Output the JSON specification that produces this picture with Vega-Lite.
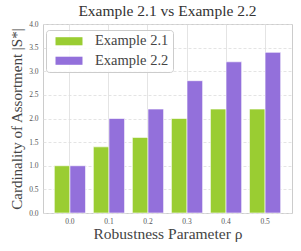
{
  "$schema": "https://vega.github.io/schema/vega-lite/v6.json",
  "autosize": {"type": "none"},
  "width": 249,
  "height": 189,
  "padding": {"left": 43, "top": 24, "right": 9, "bottom": 38},
  "background": "white",
  "title": {"text": "Example 2.1 vs Example 2.2", "font": "Liberation Serif", "fontSize": 15.5, "fontWeight": "normal", "color": "#333333", "offset": 1},
  "data": {"values": [
    {"rho": "0.0", "series": "Example 2.1", "value": 1.0},
    {"rho": "0.1", "series": "Example 2.1", "value": 1.4},
    {"rho": "0.2", "series": "Example 2.1", "value": 1.6},
    {"rho": "0.3", "series": "Example 2.1", "value": 2.0},
    {"rho": "0.4", "series": "Example 2.1", "value": 2.2},
    {"rho": "0.5", "series": "Example 2.1", "value": 2.2},
    {"rho": "0.0", "series": "Example 2.2", "value": 1.0},
    {"rho": "0.1", "series": "Example 2.2", "value": 2.0},
    {"rho": "0.2", "series": "Example 2.2", "value": 2.2},
    {"rho": "0.3", "series": "Example 2.2", "value": 2.8},
    {"rho": "0.4", "series": "Example 2.2", "value": 3.2},
    {"rho": "0.5", "series": "Example 2.2", "value": 3.4}
  ]},
  "mark": {"type": "bar", "stroke": "white", "strokeWidth": 1, "strokeOpacity": 0.6},
  "encoding": {
    "x": {"field": "rho", "type": "nominal", "sort": null,
      "scale": {"paddingInner": 0.2, "paddingOuter": 0.29},
      "axis": {"title": "Robustness Parameter ρ", "labelAngle": 0, "ticks": false, "domain": false,
        "labelFont": "Liberation Serif", "labelFontSize": 7.5, "labelColor": "#555555", "labelPadding": 4,
        "titleFont": "Liberation Serif", "titleFontSize": 15.5, "titleFontWeight": "normal", "titleColor": "#444444", "titlePadding": 2,
        "grid": true, "gridColor": "#dddddd", "gridWidth": 0.8}},
    "xOffset": {"field": "series", "type": "nominal"},
    "y": {"field": "value", "type": "quantitative",
      "scale": {"domain": [0, 4], "nice": false},
      "axis": {"title": "Cardinality of Assortment |S*|", "values": [0, 0.5, 1, 1.5, 2, 2.5, 3, 3.5, 4], "format": ".1f",
        "ticks": false, "domain": false,
        "labelFont": "Liberation Serif", "labelFontSize": 7.5, "labelColor": "#555555", "labelPadding": 5,
        "titleFont": "Liberation Serif", "titleFontSize": 15, "titleFontWeight": "normal", "titleColor": "#444444", "titlePadding": 4,
        "grid": true, "gridColor": "#dddddd", "gridDash": [3, 2], "gridWidth": 0.8}},
    "color": {"field": "series", "type": "nominal",
      "scale": {"domain": ["Example 2.1", "Example 2.2"], "range": ["#9acd32", "#9370db"]},
      "legend": {"title": null, "orient": "none", "legendX": 3, "legendY": 6,
        "fillColor": "rgba(255,255,255,0.85)", "strokeColor": "#cccccc", "cornerRadius": 3, "padding": 4,
        "symbolType": "M-2,-0.6H2V0.6H-2Z", "symbolSize": 182, "symbolStrokeWidth": 0, "symbolOpacity": 1,
        "symbolOffset": 11.75, "labelOffset": 18.75, "rowPadding": 4.5,
        "labelFont": "Liberation Serif", "labelFontSize": 14.5, "labelColor": "#444444"}}
  },
  "config": {"view": {"stroke": "#cccccc", "strokeWidth": 1}}
}
